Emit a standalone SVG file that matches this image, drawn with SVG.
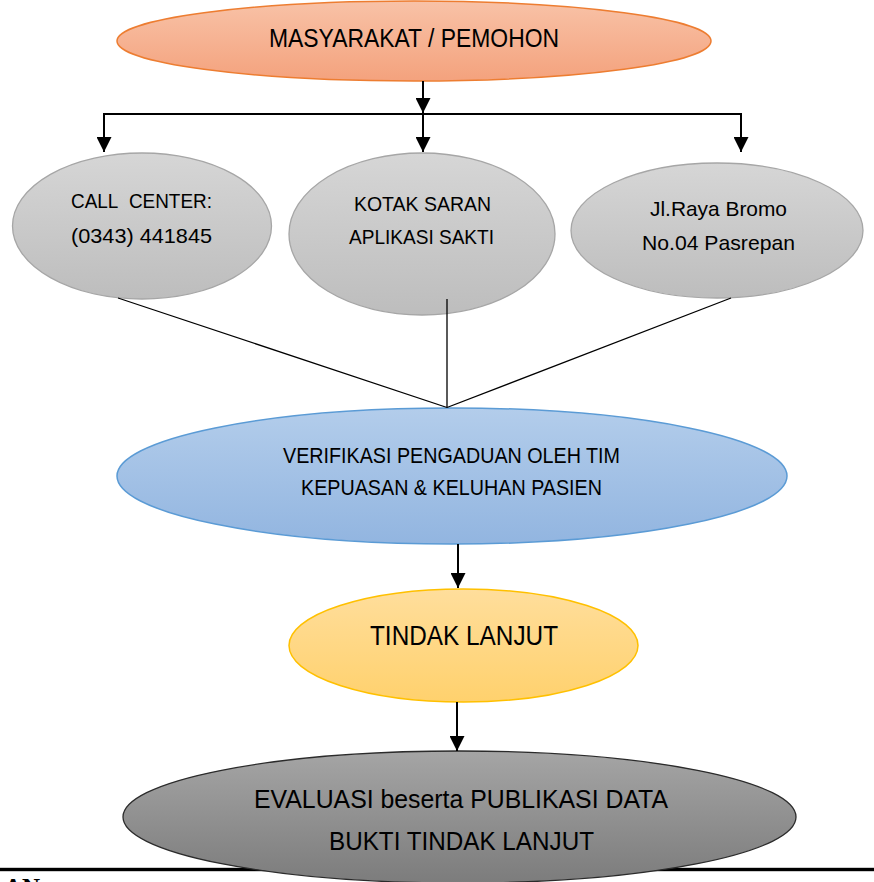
<svg xmlns="http://www.w3.org/2000/svg" width="874" height="882" viewBox="0 0 874 882">
<style>
text{font-family:"Liberation Sans",Arial,sans-serif;fill:#000;text-anchor:middle}
.sm{font-size:21px}
.md{font-size:22.5px}
.lg{font-size:25px}
.xl{font-size:28px}
.wire{stroke:#000;stroke-width:2;fill:none}
.thin{stroke:#000;stroke-width:1.3;fill:none}
</style>
<defs>
<linearGradient id="gOr" x1="0" y1="0" x2="0" y2="1"><stop offset="0" stop-color="#F8C2A7"/><stop offset="1" stop-color="#F4A27D"/></linearGradient>
<linearGradient id="gGr" x1="0" y1="0" x2="0" y2="1"><stop offset="0" stop-color="#D6D6D6"/><stop offset="1" stop-color="#BDBDBD"/></linearGradient>
<linearGradient id="gBl" x1="0" y1="0" x2="0" y2="1"><stop offset="0" stop-color="#B3CDEB"/><stop offset="1" stop-color="#92B5E0"/></linearGradient>
<linearGradient id="gYe" x1="0" y1="0" x2="0" y2="1"><stop offset="0" stop-color="#FFDE9C"/><stop offset="1" stop-color="#FFD16D"/></linearGradient>
<linearGradient id="gDk" x1="0" y1="0" x2="0" y2="1"><stop offset="0" stop-color="#A5A5A5"/><stop offset="1" stop-color="#7C7C7C"/></linearGradient>
<marker id="ah" viewBox="0 0 10 10" refX="10" refY="5" markerWidth="7.5" markerHeight="7.5" markerUnits="strokeWidth" orient="auto"><path d="M0,0 L10,5 L0,10 Z" fill="#000"/></marker>
</defs>

<rect x="0" y="867.8" width="874" height="3.4" fill="#000"/>
<text x="4" y="896" style="font-family:'Liberation Serif',serif;font-weight:bold;font-size:25px;text-anchor:start">AN</text>

<g id="masyarakat">
<ellipse cx="414" cy="41" rx="297" ry="40" fill="url(#gOr)" stroke="#ED7D31" stroke-width="1.5"/>
<text class="lg" x="414" y="47" textLength="290" lengthAdjust="spacingAndGlyphs">MASYARAKAT / PEMOHON</text>
</g>

<g id="callcenter">
<ellipse cx="142" cy="226" rx="129.5" ry="73" fill="url(#gGr)" stroke="#A6A6A6" stroke-width="1.3"/>
<text class="sm" x="141.5" y="208" textLength="141" lengthAdjust="spacingAndGlyphs">CALL&#160; CENTER:</text>
<text class="sm" x="141.5" y="243" textLength="141" lengthAdjust="spacingAndGlyphs">(0343) 441845</text>
</g>

<g id="kotaksaran">
<ellipse cx="422" cy="234" rx="133" ry="81" fill="url(#gGr)" stroke="#A6A6A6" stroke-width="1.3"/>
<text class="sm" x="422.5" y="211" textLength="137" lengthAdjust="spacingAndGlyphs">KOTAK SARAN</text>
<text class="sm" x="421.5" y="244" textLength="145" lengthAdjust="spacingAndGlyphs">APLIKASI SAKTI</text>
</g>

<g id="alamat">
<ellipse cx="717" cy="230.5" rx="146" ry="67.5" fill="url(#gGr)" stroke="#A6A6A6" stroke-width="1.3"/>
<text class="sm" x="718.5" y="216" textLength="137" lengthAdjust="spacingAndGlyphs">Jl.Raya Bromo</text>
<text class="sm" x="718.5" y="250" textLength="153" lengthAdjust="spacingAndGlyphs">No.04 Pasrepan</text>
</g>

<g id="verifikasi">
<ellipse cx="452" cy="476" rx="335" ry="68" fill="url(#gBl)" stroke="#5B9BD5" stroke-width="1.5"/>
<text class="md" x="451.5" y="463" textLength="337" lengthAdjust="spacingAndGlyphs">VERIFIKASI PENGADUAN OLEH TIM</text>
<text class="md" x="451.5" y="495" textLength="301" lengthAdjust="spacingAndGlyphs">KEPUASAN &amp; KELUHAN PASIEN</text>
</g>

<g id="tindaklanjut">
<ellipse cx="463.5" cy="645.5" rx="174.5" ry="56.5" fill="url(#gYe)" stroke="#FFC000" stroke-width="1.5"/>
<text class="xl" x="464" y="645" textLength="188" lengthAdjust="spacingAndGlyphs">TINDAK LANJUT</text>
</g>

<g id="evaluasi">
<ellipse cx="459.5" cy="817" rx="336.5" ry="66" fill="url(#gDk)" stroke="#2B2B2B" stroke-width="1.3"/>
<text class="lg" x="461" y="808" textLength="414" lengthAdjust="spacingAndGlyphs">EVALUASI beserta PUBLIKASI DATA</text>
<text class="lg" x="461.5" y="850" textLength="265" lengthAdjust="spacingAndGlyphs">BUKTI TINDAK LANJUT</text>
</g>

<g id="connectors">
<line class="wire" x1="423" y1="81" x2="423" y2="113" marker-end="url(#ah)"/>
<line class="wire" x1="103" y1="114" x2="742" y2="114"/>
<line class="wire" x1="104" y1="114" x2="104" y2="152" marker-end="url(#ah)"/>
<line class="wire" x1="423" y1="114" x2="423" y2="152" marker-end="url(#ah)"/>
<line class="wire" x1="741" y1="114" x2="741" y2="152" marker-end="url(#ah)"/>
<line class="thin" x1="118" y1="298" x2="447" y2="407.5"/>
<line class="thin" x1="447" y1="299" x2="447" y2="407.5"/>
<line class="thin" x1="731" y1="298" x2="447" y2="407.5"/>
<line class="wire" x1="458" y1="544" x2="458" y2="588" marker-end="url(#ah)"/>
<line class="wire" x1="457" y1="702" x2="457" y2="751" marker-end="url(#ah)"/>
</g>
</svg>
